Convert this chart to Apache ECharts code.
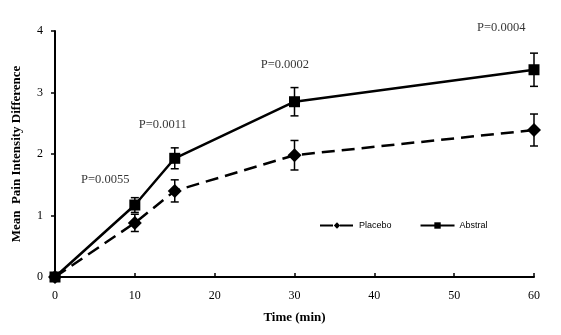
<!DOCTYPE html>
<html><head><meta charset="utf-8">
<script src="https://cdn.jsdelivr.net/npm/echarts@6/dist/echarts.min.js"></script>
<style>html,body{margin:0;padding:0;background:#fff}#c{width:561px;height:335px}</style>
</head><body><div id="c"></div>
<script>
const times = [0, 10, 15, 30, 60];
const placebo = [0, 0.88, 1.40, 1.98, 2.39];
const placeboErr = [0, 0.14, 0.18, 0.24, 0.26];
const abstral = [0, 1.17, 1.93, 2.85, 3.37];
const abstralErr = [0, 0.12, 0.17, 0.23, 0.27];
const pLabels = ['P=0.0055', 'P=0.0011', 'P=0.0002', 'P=0.0004'];
const pLabelX = [6.3, 13.5, 28.8, 55.9];
const pLabelY = [1.58, 2.47, 3.45, 4.05];
const yTicks = [0, 1, 2, 3, 4];

const serif = '"Liberation Serif", "Times New Roman", serif';
const chart = echarts.init(document.getElementById('c'));

function errSeries(vals, errs, name) {
  return {
    type: 'custom', name: name + ' err', silent: true, z: 1,
    data: times.map((t, i) => [t, vals[i], errs[i]]).filter(d => d[2] > 0),
    renderItem: (params, api) => {
      const x = api.value(0), y = api.value(1), e = api.value(2);
      const hi = api.coord([x, y + e]), lo = api.coord([x, y - e]);
      const w = 4;
      const st = { stroke: '#000', lineWidth: 1.5 };
      return { type: 'group', children: [
        { type: 'line', shape: { x1: hi[0], y1: hi[1], x2: lo[0], y2: lo[1] }, style: st },
        { type: 'line', shape: { x1: hi[0] - w, y1: hi[1], x2: hi[0] + w, y2: hi[1] }, style: st },
        { type: 'line', shape: { x1: lo[0] - w, y1: lo[1], x2: lo[0] + w, y2: lo[1] }, style: st }
      ]};
    }
  };
}

chart.setOption({
  animation: false,
  backgroundColor: '#fff',
  grid: { left: 55, right: 27, top: 31, bottom: 58 },
  xAxis: {
    type: 'value', min: 0, max: 60, interval: 10,
    name: 'Time (min)', nameLocation: 'middle', nameGap: 34,
    nameTextStyle: { fontFamily: serif, fontWeight: 'bold', fontSize: 13, color: '#000' },
    axisLine: { lineStyle: { color: '#000', width: 2 } },
    axisTick: { inside: true, length: 4, lineStyle: { color: '#000', width: 1.5 } },
    axisLabel: { fontFamily: serif, fontSize: 12, color: '#000', margin: 13 },
    splitLine: { show: false }
  },
  yAxis: {
    type: 'value', min: yTicks[0], max: yTicks[yTicks.length - 1], interval: 1,
    name: 'Mean  Pain Intensity Difference', nameLocation: 'middle', nameGap: 32,
    nameTextStyle: { fontFamily: serif, fontWeight: 'bold', fontSize: 13, color: '#000' },
    axisLine: { show: true, lineStyle: { color: '#000', width: 2 } },
    axisTick: { show: true, length: 4, lineStyle: { color: '#000', width: 1.5 } },
    axisLabel: { fontFamily: serif, fontSize: 12, color: '#000', margin: 12 },
    splitLine: { show: false }
  },
  legend: {
    left: 314, top: 216, itemWidth: 34, itemHeight: 8, itemGap: 28,
    textStyle: { fontFamily: '"Liberation Sans", Arial, sans-serif', fontSize: 9, color: '#000' },
    data: ['Placebo', 'Abstral']
  },
  series: [
    errSeries(placebo, placeboErr, 'Placebo'),
    errSeries(abstral, abstralErr, 'Abstral'),
    {
      name: 'Placebo', type: 'line', z: 3,
      data: times.map((t, i) => [t, placebo[i]]),
      symbol: 'diamond', symbolSize: 14,
      itemStyle: { color: '#000' },
      lineStyle: { color: '#000', width: 2.5, type: [13, 7] }
    },
    {
      name: 'Abstral', type: 'line', z: 3,
      data: times.map((t, i) => [t, abstral[i]]),
      symbol: 'rect', symbolSize: 11,
      itemStyle: { color: '#000' },
      lineStyle: { color: '#000', width: 2.5 }
    },
    {
      name: 'pvals', type: 'scatter', symbolSize: 0, clip: false, silent: true,
      data: pLabels.map((s, i) => ({ value: [pLabelX[i], pLabelY[i]], name: s })),
      label: { show: true, position: 'inside', formatter: p => p.name,
        fontFamily: serif, fontSize: 12.5, color: '#000' }
    }
  ]
});
</script></body></html>
